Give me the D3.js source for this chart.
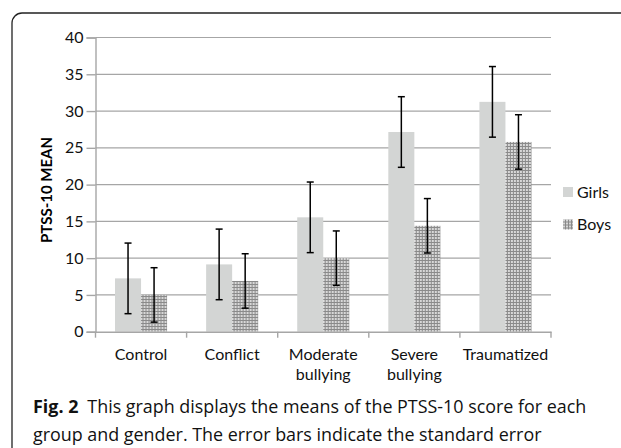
<!DOCTYPE html>
<html>
<head>
<meta charset="utf-8">
<script src="https://cdn.jsdelivr.net/npm/d3@7"></script>
<style>
	body { margin: 0; background: #fff; }
	text { font-family: Lato, sans-serif; }
</style>
</head>
<body>
<div id="chart_goes_here"></div>
<script>
// values
var groups = ['Control', 'Conflict', 'Moderate bullying', 'Severe bullying', 'Traumatized'];
var series = ['Girls', 'Boys'];
var girls_mean = [7.25, 9.15, 15.55, 27.15, 31.25];
var boys_mean = [5.0, 6.9, 10.0, 14.4, 25.8];
var girls_se = [4.8, 4.8, 4.8, 4.8, 4.8];
var boys_se = [3.7, 3.7, 3.7, 3.7, 3.7];
var y_ticks = [0, 5, 10, 15, 20, 25, 30, 35, 40];

var settings = {
	width: 621,
	height: 448,
	left: 95.5,
	right: 551,
	top: 37.5,
	bottom: 331.7,
	grid_colour: '#a6a6a6',
	font_size: 16,
	text_colour: '#111'
}

var svg = d3.select('#chart_goes_here')
	.append('svg')
	.attr('width', settings.width)
	.attr('height', settings.height);

//dotted fill for the boys bars
var pat = svg.append('defs')
	.append('pattern')
	.attr('id', 'boys_fill')
	.attr('patternUnits', 'userSpaceOnUse')
	.attr('width', 3)
	.attr('height', 3);
pat.append('rect').attr('width', 3).attr('height', 3).attr('fill', '#8a8a8a');
pat.append('rect').attr('width', 2).attr('height', 2).attr('fill', '#d8d8d8');

//frame round the figure
svg.append('rect')
	.attr('x', 12)
	.attr('y', 13)
	.attr('width', 700)
	.attr('height', 600)
	.attr('rx', 10)
	.attr('fill', 'none')
	.attr('stroke', '#222')
	.attr('stroke-width', 1.3);

var y = d3.scaleLinear()
	.domain([0, 40])
	.range([settings.bottom, settings.top]);

var x0 = d3.scaleBand()
	.domain(groups)
	.range([settings.left, settings.right]);

var x1 = d3.scaleBand()
	.domain(series)
	.range([0, x0.bandwidth()])
	.paddingOuter(0.75);

//gridlines
svg.append('g')
	.selectAll('line')
	.data(y_ticks.slice(1))
	.enter()
	.append('line')
	.attr('x1', settings.left)
	.attr('x2', settings.right)
	.attr('y1', function(d){ return y(d); })
	.attr('y2', function(d){ return y(d); })
	.attr('stroke', settings.grid_colour)
	.attr('stroke-width', 1.2);

//y axis
var y_axis = svg.append('g')
	.attr('transform', 'translate(' + settings.left + ',0)')
	.call(d3.axisLeft(y).tickValues(y_ticks).tickSize(9).tickPadding(3));
y_axis.selectAll('path, line').attr('stroke', settings.grid_colour).attr('stroke-width', 1.4);
y_axis.selectAll('text')
	.attr('font-size', settings.font_size)
	.attr('fill', settings.text_colour)
	.style('font-family', 'Lato, sans-serif');

svg.append('text')
	.attr('transform', 'translate(52,190) rotate(-90)')
	.attr('text-anchor', 'middle')
	.attr('font-size', 15)
	.attr('font-weight', 'bold')
	.attr('fill', '#000')
	.text('PTSS-10 MEAN');

//bars
var rows = groups.map(function(g, i){
	return [
		{group: g, key: 'Girls', mean: girls_mean[i], se: girls_se[i]},
		{group: g, key: 'Boys', mean: boys_mean[i], se: boys_se[i]}
	];
});

var group_g = svg.append('g')
	.selectAll('g')
	.data(rows)
	.enter()
	.append('g')
	.attr('transform', function(d){ return 'translate(' + x0(d[0].group) + ',0)'; });

group_g.selectAll('rect')
	.data(function(d){ return d; })
	.enter()
	.append('rect')
	.attr('x', function(d){ return x1(d.key); })
	.attr('y', function(d){ return y(d.mean); })
	.attr('width', x1.bandwidth())
	.attr('height', function(d){ return y(0) - y(d.mean); })
	.attr('fill', function(d){ return d.key == 'Girls' ? '#d3d5d4' : 'url(#boys_fill)'; });

//error bars
var cap = 3.5;
group_g.selectAll('g.err')
	.data(function(d){ return d; })
	.enter()
	.append('g')
	.attr('class', 'err')
	.each(function(d){
		var cx = x1(d.key) + x1.bandwidth() / 2;
		var g = d3.select(this);
		g.append('line')
			.attr('x1', cx).attr('x2', cx)
			.attr('y1', y(d.mean + d.se)).attr('y2', y(d.mean - d.se));
		g.append('line')
			.attr('x1', cx - cap).attr('x2', cx + cap)
			.attr('y1', y(d.mean + d.se)).attr('y2', y(d.mean + d.se));
		g.append('line')
			.attr('x1', cx - cap).attr('x2', cx + cap)
			.attr('y1', y(d.mean - d.se)).attr('y2', y(d.mean - d.se));
	})
	.selectAll('line')
	.attr('stroke', '#000')
	.attr('stroke-width', 1.5);

//x axis
var x_axis = svg.append('g')
	.attr('transform', 'translate(0,' + settings.bottom + ')')
	.call(d3.axisBottom(x0).tickSize(0).tickFormat(''));
x_axis.select('path').attr('stroke', settings.grid_colour).attr('stroke-width', 1.6);
svg.append('g')
	.selectAll('line')
	.data(groups.concat(['end']))
	.enter()
	.append('line')
	.attr('x1', function(d, i){ return settings.left + i * x0.step(); })
	.attr('x2', function(d, i){ return settings.left + i * x0.step(); })
	.attr('y1', settings.bottom)
	.attr('y2', settings.bottom + 6)
	.attr('stroke', settings.grid_colour)
	.attr('stroke-width', 1.4);

svg.append('g')
	.selectAll('text')
	.data(groups)
	.enter()
	.append('text')
	.attr('text-anchor', 'middle')
	.attr('font-size', settings.font_size)
	.attr('fill', settings.text_colour)
	.attr('x', function(d){ return x0(d) + x0.bandwidth() / 2; })
	.attr('y', 360)
	.each(function(d){
		var words = d.split(' ');
		var t = d3.select(this);
		words.forEach(function(w, k){
			t.append('tspan')
				.attr('x', t.attr('x'))
				.attr('dy', k == 0 ? 0 : 19.5)
				.text(w);
		});
	});

//legend
var legend = svg.append('g')
	.selectAll('g')
	.data(series)
	.enter()
	.append('g')
	.attr('transform', function(d, i){ return 'translate(563,' + (187 + i * 32.5) + ')'; });
legend.append('rect')
	.attr('width', 10)
	.attr('height', 10)
	.attr('fill', function(d){ return d == 'Girls' ? '#d3d5d4' : 'url(#boys_fill)'; });
legend.append('text')
	.attr('x', 14)
	.attr('y', 10.5)
	.attr('font-size', settings.font_size)
	.attr('fill', settings.text_colour)
	.text(function(d){ return d; });

//caption
var caption = svg.append('text')
	.attr('x', 33)
	.attr('y', 413)
	.attr('font-size', 17.9)
	.attr('fill', '#111')
	.style('font-family', '"Open Sans", sans-serif');
caption.append('tspan').attr('font-weight', 'bold').text('Fig. 2');
caption.append('tspan').text('\u2002This graph displays the means of the PTSS-10 score for each');
svg.append('text')
	.attr('x', 33)
	.attr('y', 441)
	.attr('font-size', 17.9)
	.attr('fill', '#111')
	.style('font-family', '"Open Sans", sans-serif')
	.text('group and gender. The error bars indicate the standard error');
</script>
</body>
</html>
